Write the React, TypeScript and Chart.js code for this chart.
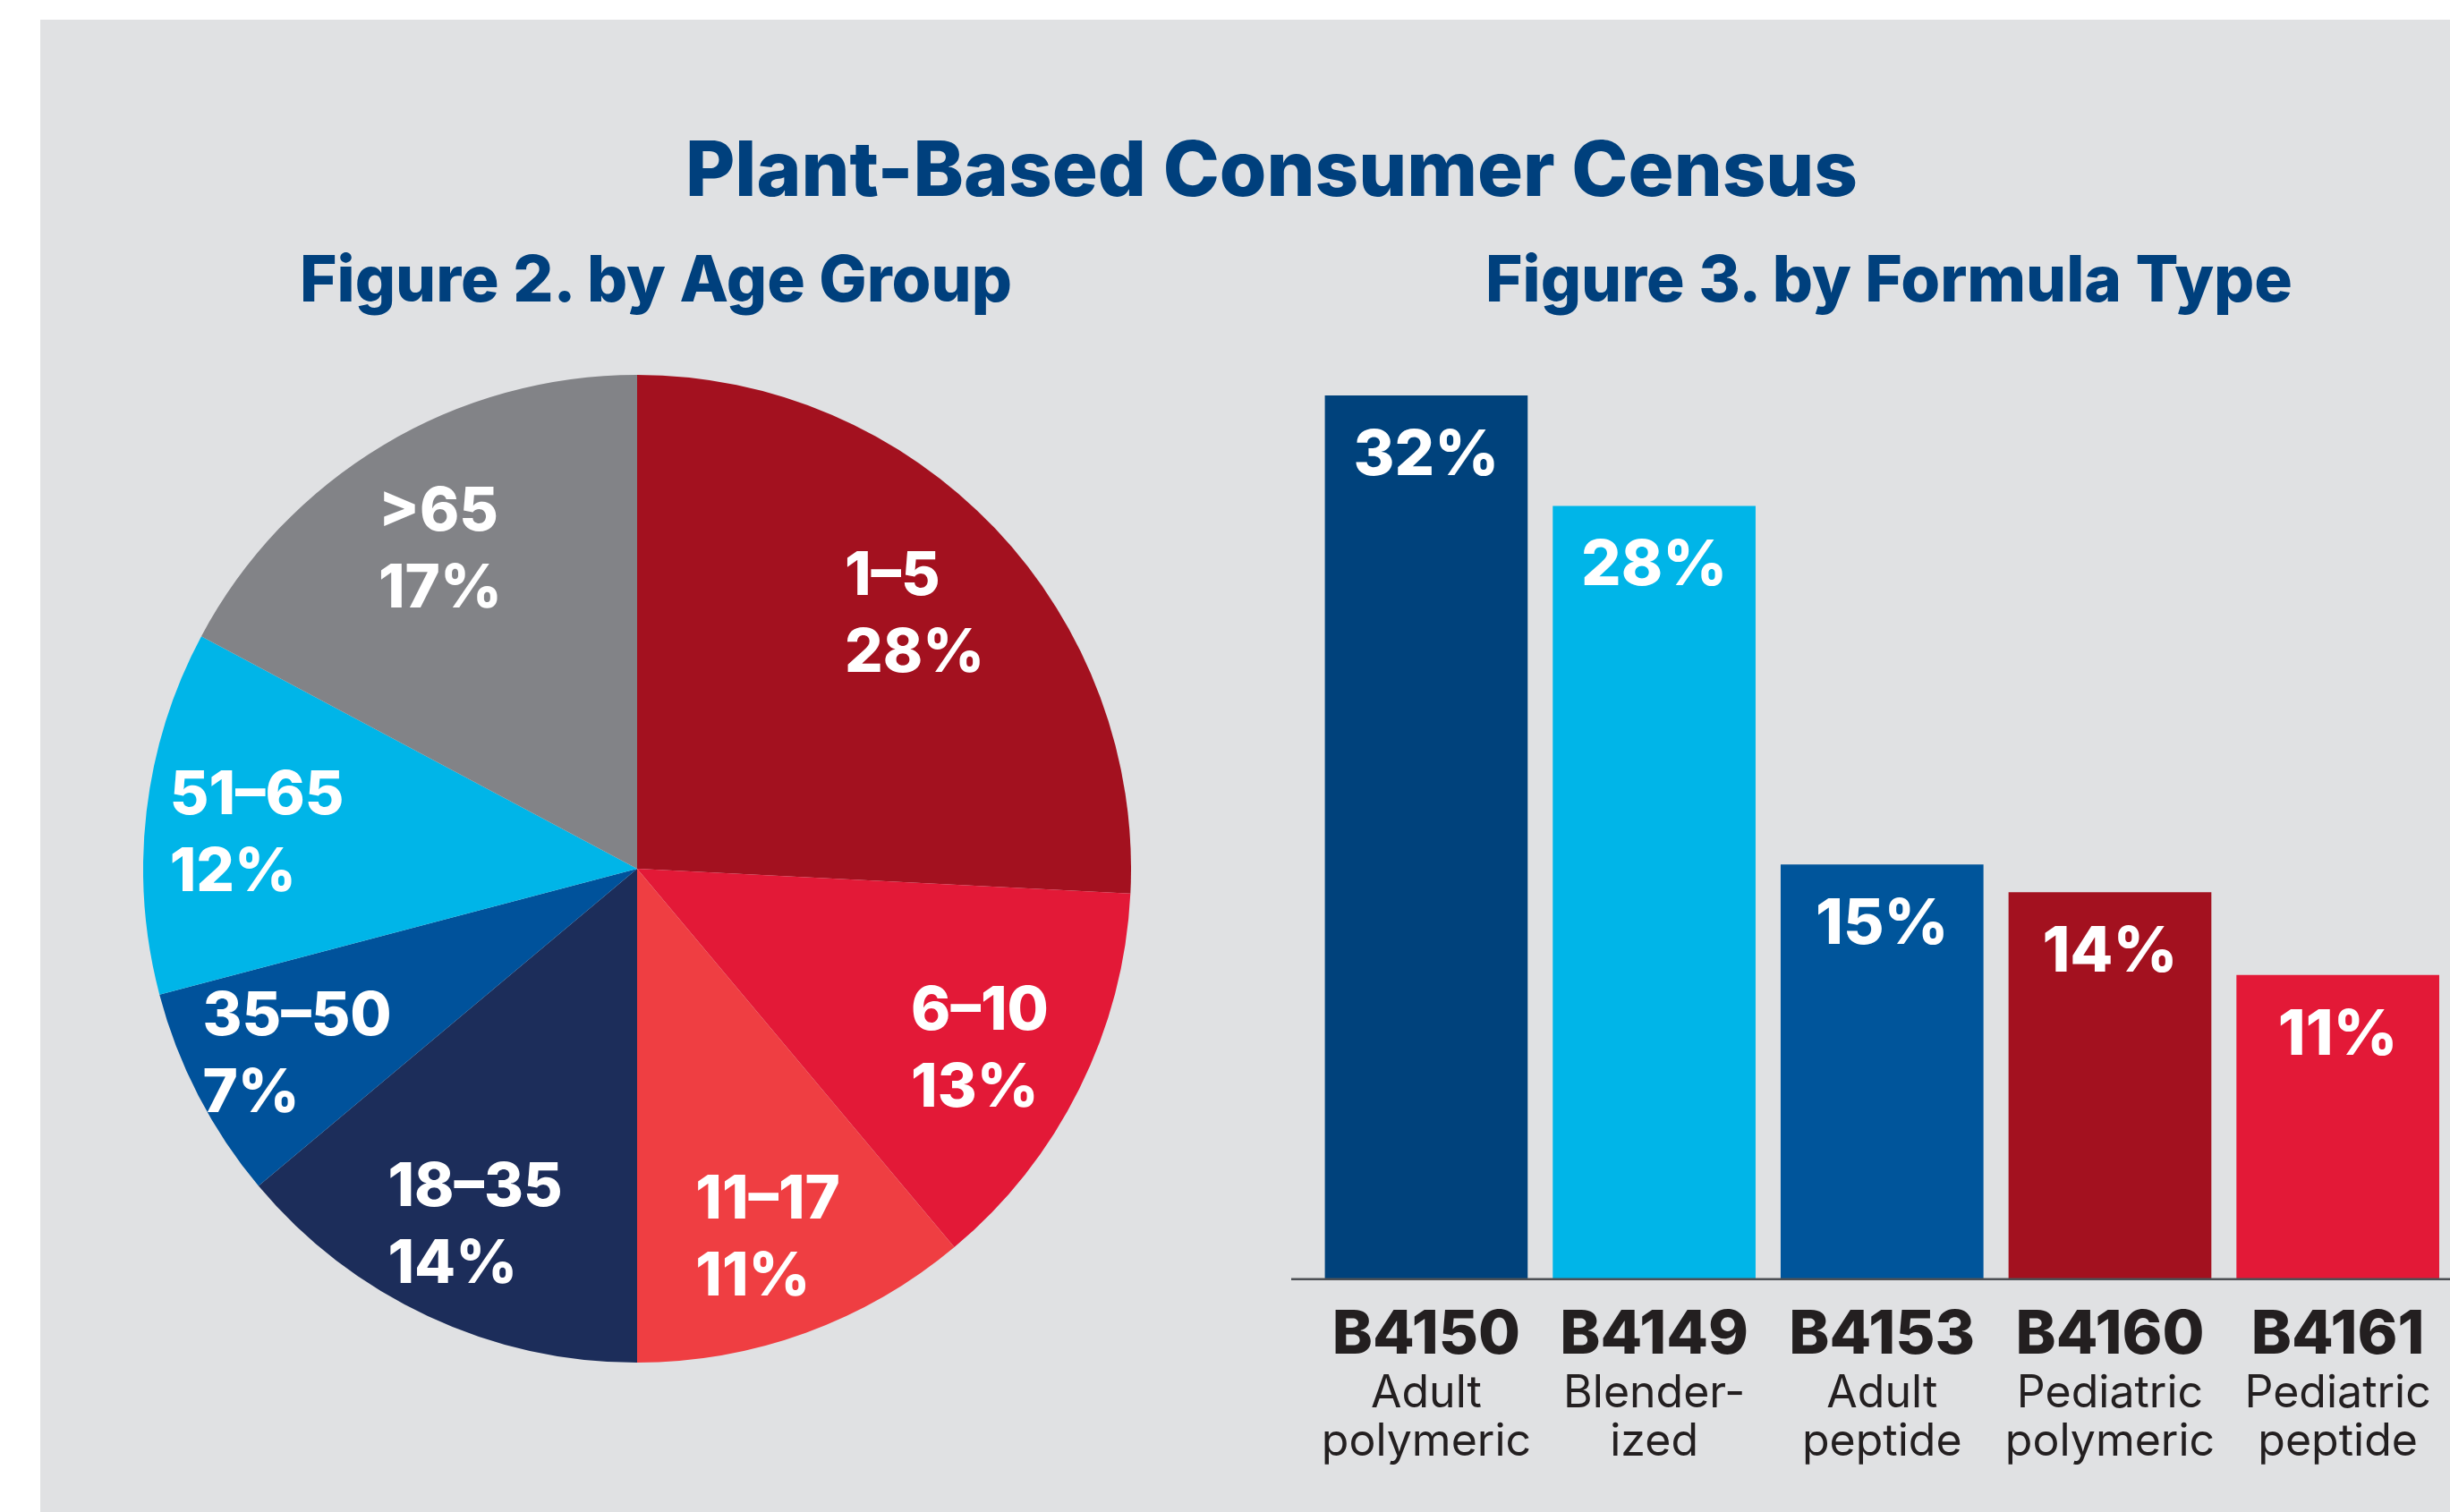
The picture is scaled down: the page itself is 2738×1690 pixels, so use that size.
import React, { useEffect, useRef } from "react";
import { Chart, registerables } from "chart.js";

Chart.register(...registerables);

// ---------- Data ----------
const pageTitle = "Plant-Based Consumer Census";
const pieTitle = "Figure 2. by Age Group";
const barTitle = "Figure 3. by Formula Type";

const ageGroups = ["1–5", "6–10", "11–17", "18–35", "35–50", "51–65", ">65"];
const agePercentLabels = ["28%", "13%", "11%", "14%", "7%", "12%", "17%"];
// slice sizes as drawn in the picture
const ageSliceShares = [25.8, 13.1, 11.1, 13.9, 7.0, 11.9, 17.2];
const ageColors = ["#a3111f", "#e31937", "#ef3e42", "#1c2d5a", "#00529b", "#00b5e8", "#828387"];

const formulaCodes = ["B4150", "B4149", "B4153", "B4160", "B4161"];
const formulaTypeLine1 = ["Adult", "Blender-", "Adult", "Pediatric", "Pediatric"];
const formulaTypeLine2 = ["polymeric", "ized", "peptide", "polymeric", "peptide"];
const formulaValues = [32, 28, 15, 14, 11];
const formulaColors = ["#00427c", "#00b5e8", "#00559b", "#a3111f", "#e31937"];

const TITLE_BLUE = "#00407d";
const BG = "#e0e1e3";
const FONT = "Inter, 'Liberation Sans', Arial, sans-serif";

function PieChart() {
  const ref = useRef<HTMLCanvasElement | null>(null);
  useEffect(() => {
    if (!ref.current) return;
    const labelPlugin = {
      id: "pieLabels",
      afterDatasetsDraw(chart: any) {
        const ctx = chart.ctx;
        const meta = chart.getDatasetMeta(0);
        ctx.save();
        ctx.fillStyle = "#ffffff";
        ctx.font = `800 67px ${FONT}`;
        ctx.textBaseline = "alphabetic";
        ctx.textAlign = "left";
        const lineGap = 86;
        const cap = 48;
        meta.data.forEach((arc: any, i: number) => {
          const p = arc.getProps(["x", "y", "startAngle", "endAngle", "outerRadius"], true);
          const mid = (p.startAngle + p.endAngle) / 2;
          const r = p.outerRadius * 0.775;
          const cx = p.x + Math.cos(mid) * r;
          const cy = p.y + Math.sin(mid) * r + 8;
          const l1 = ageGroups[i];
          const l2 = agePercentLabels[i];
          const w = Math.max(ctx.measureText(l1).width, ctx.measureText(l2).width);
          const left = cx - w / 2;
          const blockH = lineGap + cap;
          const top = cy - blockH / 2;
          ctx.fillText(l1, left, top + cap);
          ctx.fillText(l2, left, top + cap + lineGap);
        });
        ctx.restore();
      },
    };
    const chart = new Chart(ref.current, {
      type: "pie",
      data: {
        labels: ageGroups,
        datasets: [
          {
            data: ageSliceShares,
            backgroundColor: ageColors,
            borderWidth: 0,
            hoverBorderWidth: 0,
            hoverOffset: 0,
          },
        ],
      },
      options: {
        responsive: false,
        animation: false,
        events: [],
        rotation: 0,
        layout: { padding: 0 },
        plugins: { legend: { display: false }, tooltip: { enabled: false }, title: { display: false } },
      },
      plugins: [labelPlugin],
    });
    return () => chart.destroy();
  }, []);
  return (
    <canvas
      ref={ref}
      width={1104}
      height={1104}
      style={{ position: "absolute", left: 160, top: 419, width: 1104, height: 1104 }}
    />
  );
}

function BarChart() {
  const ref = useRef<HTMLCanvasElement | null>(null);
  useEffect(() => {
    if (!ref.current) return;
    const drawPlugin = {
      id: "barDecor",
      afterDatasetsDraw(chart: any) {
        const ctx = chart.ctx;
        const xs = chart.scales.x;
        const ys = chart.scales.y;
        const y0 = ys.getPixelForValue(0);
        ctx.save();
        // axis line
        ctx.fillStyle = "#4d5055";
        ctx.fillRect(43, y0 - 0.5, chart.width, 2.5);
        // value labels
        const meta = chart.getDatasetMeta(0);
        ctx.fillStyle = "#ffffff";
        ctx.font = `800 70px ${FONT}`;
        ctx.textAlign = "center";
        ctx.textBaseline = "middle";
        meta.data.forEach((bar: any, i: number) => {
          const p = bar.getProps(["x", "y"], true);
          ctx.fillText(`${formulaValues[i]}%`, p.x, p.y + 68);
        });
        // category labels
        ctx.fillStyle = "#231f20";
        ctx.textBaseline = "alphabetic";
        formulaCodes.forEach((code, i) => {
          const x = xs.getPixelForValue(i);
          ctx.font = `800 68px ${FONT}`;
          ctx.fillText(code, x, y0 + 84);
          ctx.font = `400 50px ${FONT}`;
          ctx.fillText(formulaTypeLine1[i], x, y0 + 144);
          ctx.fillText(formulaTypeLine2[i], x, y0 + 198);
        });
        ctx.restore();
      },
    };
    const chart = new Chart(ref.current, {
      type: "bar",
      data: {
        labels: formulaCodes,
        datasets: [
          {
            data: formulaValues,
            backgroundColor: formulaColors,
            borderWidth: 0,
            barPercentage: 0.89,
            categoryPercentage: 1,
          },
        ],
      },
      options: {
        responsive: false,
        animation: false,
        events: [],
        layout: { padding: { left: 66.6, right: 20, top: 142, bottom: 261 } },
        scales: {
          x: { display: false, offset: true, grid: { display: false } },
          y: { display: false, min: 0, max: 32, grid: { display: false } },
        },
        plugins: { legend: { display: false }, tooltip: { enabled: false }, title: { display: false } },
      },
      plugins: [drawPlugin],
    });
    return () => chart.destroy();
  }, []);
  return (
    <canvas
      ref={ref}
      width={1360}
      height={1390}
      style={{ position: "absolute", left: 1400, top: 300, width: 1360, height: 1390 }}
    />
  );
}

function Heading({ text, cx, baseline, size }: { text: string; cx: number; baseline: number; size: number }) {
  const top = baseline - 0.863 * size;
  return (
    <div
      style={{
        position: "absolute",
        left: cx - 1000,
        width: 2000,
        top,
        textAlign: "center",
        fontFamily: FONT,
        fontWeight: 800,
        fontSize: size,
        lineHeight: `${size}px`,
        color: TITLE_BLUE,
        whiteSpace: "nowrap",
      }}
    >
      {text}
    </div>
  );
}

export default function App() {
  useEffect(() => {
    document.body.style.margin = "0";
    document.body.style.overflow = "hidden";
  }, []);
  return (
    <div style={{ position: "relative", width: 2738, height: 1690, overflow: "hidden", background: "#ffffff" }}>
      <div style={{ position: "absolute", left: 45, top: 22, right: 0, bottom: 0, background: BG }} />
      <Heading text={pageTitle} cx={1421} baseline={219} size={85} />
      <Heading text={pieTitle} cx={733} baseline={337} size={71} />
      <Heading text={barTitle} cx={2111} baseline={337} size={71} />
      <PieChart />
      <BarChart />
    </div>
  );
}
